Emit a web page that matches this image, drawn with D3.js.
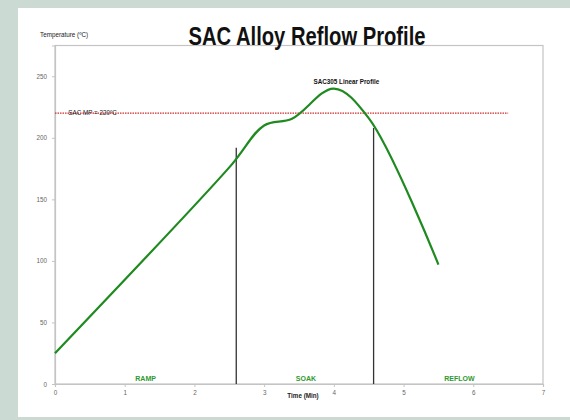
<!DOCTYPE html>
<html>
<head>
<meta charset="utf-8">
<script src="https://cdn.jsdelivr.net/npm/d3@7"></script>
<style>
  body { margin: 0; background: #cbdbd4; }
  svg { display: block; }
</style>
</head>
<body>
<svg id="chart" width="570" height="420"></svg>
<script>
// profile points (time in min, temperature in C)
let profileTime = [0, 2.5, 3.0, 3.4, 4.0, 4.5, 5.5];
let profileTemp = [25, 176, 210, 215.5, 240, 216, 97];

// phase boundaries (time, top of marker line)
let phaseTime = [2.6, 4.57];
let phaseTop = [192, 208];

let phaseNames = ["RAMP", "SOAK", "REFLOW"];
let phaseCenter = [1.3, 3.6, 5.8];

let meltTemp = 220, meltEnd = 6.5;
let xTicks = [0, 1, 2, 3, 4, 5, 6, 7];
let yTicks = [0, 50, 100, 150, 200, 250];

let bgColor = "#cbdbd4", axisColor = "#c4c4c4";
let lineColor = "#1f8a1f", phaseColor = "#2e9a2e", meltColor = "#d42a2a";
let font_family = "'Liberation Sans', Arial, sans-serif";

let svg = d3.select("#chart");

svg.append("rect")
  .attr("x", 18).attr("y", 8)
  .attr("width", 552).attr("height", 409)
  .attr("fill", "white");

let margin = {left: 55, right: 27, top: 45.5, bottom: 36};
let x = d3.scaleLinear().domain([0, 7]).range([margin.left, 570 - margin.right]);
let y = d3.scaleLinear().domain([0, 275]).range([420 - margin.bottom, margin.top]);

// plot frame
svg.append("rect")
  .attr("x", x(0)).attr("y", y(275))
  .attr("width", x(7) - x(0)).attr("height", y(0) - y(275))
  .attr("fill", "none")
  .attr("stroke", axisColor)
  .attr("stroke-width", 1.2);

let xAxis = svg.append("g")
  .attr("transform", `translate(0, ${y(0)})`)
  .call(d3.axisBottom(x).tickValues(xTicks).tickSize(3).tickPadding(4).tickFormat(d3.format("d")));

let yAxis = svg.append("g")
  .attr("transform", `translate(${x(0)}, 0)`)
  .call(d3.axisLeft(y).tickValues(yTicks).tickSize(3).tickPadding(5).tickFormat(d3.format("d")));

[xAxis, yAxis].forEach(a => {
  a.select(".domain").attr("stroke", axisColor).attr("stroke-width", 1.2);
  a.selectAll(".tick line").attr("stroke", axisColor);
  a.selectAll(".tick text")
    .attr("fill", "#666")
    .style("font-family", font_family)
    .style("font-size", "6.3px");
});

// melting point line
svg.append("line")
  .attr("x1", x(0)).attr("x2", x(meltEnd))
  .attr("y1", y(meltTemp)).attr("y2", y(meltTemp))
  .attr("stroke", meltColor)
  .attr("stroke-width", 1.2)
  .attr("stroke-dasharray", "1.5,1");

svg.append("text")
  .attr("x", x(0.19)).attr("y", y(meltTemp) + 2)
  .style("font-family", font_family)
  .style("font-size", "6.3px")
  .attr("fill", "#222")
  .text(`SAC MP = ${meltTemp}ºC`);

// phase markers
svg.selectAll(".phase_line")
  .data(phaseTime)
  .enter()
  .append("line")
  .attr("class", "phase_line")
  .attr("x1", d => x(d)).attr("x2", d => x(d))
  .attr("y1", y(0)).attr("y2", (d, i) => y(phaseTop[i]))
  .attr("stroke", "#333")
  .attr("stroke-width", 1.3);

svg.selectAll(".phase_label")
  .data(phaseNames)
  .enter()
  .append("text")
  .attr("class", "phase_label")
  .attr("x", (d, i) => x(phaseCenter[i]))
  .attr("y", y(0) - 3)
  .attr("text-anchor", "middle")
  .attr("fill", phaseColor)
  .style("font-family", font_family)
  .style("font-size", "7px")
  .style("font-weight", "bold")
  .text(d => d);

// profile curve
let pts = profileTime.map((t, i) => [t, profileTemp[i]]);
let line = d3.line()
  .x(d => x(d[0]))
  .y(d => y(d[1]))
  .curve(d3.curveCatmullRom.alpha(0.5));

svg.append("path")
  .datum(pts)
  .attr("d", line)
  .attr("fill", "none")
  .attr("stroke", lineColor)
  .attr("stroke-width", 2.2);

svg.append("text")
  .attr("x", x(4.18)).attr("y", 84)
  .attr("text-anchor", "middle")
  .attr("fill", "#111")
  .style("font-family", font_family)
  .style("font-size", "6.3px")
  .style("font-weight", "bold")
  .text("SAC305 Linear Profile");

// titles
svg.append("text")
  .attr("x", 307).attr("y", 45)
  .attr("text-anchor", "middle")
  .attr("textLength", 237)
  .attr("lengthAdjust", "spacingAndGlyphs")
  .style("font-family", "'Liberation Sans', Arial, sans-serif")
  .style("font-size", "25px")
  .style("font-weight", "bold")
  .attr("fill", "#111")
  .text("SAC Alloy Reflow Profile");

svg.append("text")
  .attr("x", 40).attr("y", 37)
  .style("font-family", font_family)
  .style("font-size", "6.3px")
  .attr("fill", "#222")
  .text("Temperature (ºC)");

svg.append("text")
  .attr("x", 303).attr("y", 398)
  .attr("text-anchor", "middle")
  .style("font-family", font_family)
  .style("font-size", "6.3px")
  .style("font-weight", "bold")
  .attr("fill", "#222")
  .text("Time (Min)");
</script>
</body>
</html>
